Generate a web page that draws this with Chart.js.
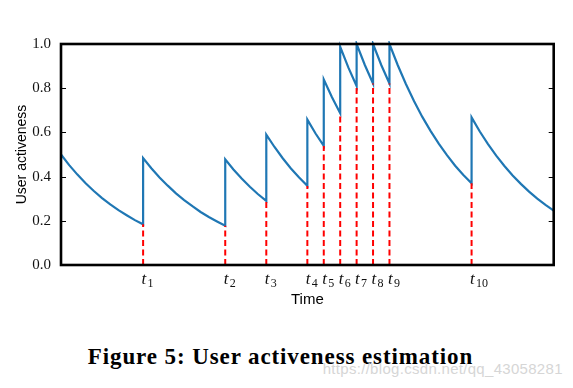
<!DOCTYPE html>
<html>
<head>
<meta charset="utf-8">
<script src="https://cdn.jsdelivr.net/npm/chart.js@4/dist/chart.umd.min.js"></script>
<style>
  html, body { margin: 0; padding: 0; background: #fff; }
  #wrap { position: relative; width: 573px; height: 388px; overflow: hidden; }
  #activeness { position: absolute; left: 0; top: 0; }
  .caption {
    position: absolute; left: 0; width: 561px; top: 343.7px;
    text-align: center; line-height: 23px; white-space: nowrap;
    font: bold 23px "Liberation Serif", serif; letter-spacing: 0.9px; color: #000;
  }
  .mark {
    position: absolute; left: 322.7px; top: 360.3px; line-height: 15px; white-space: nowrap;
    font: 15px "Liberation Sans", sans-serif; letter-spacing: 0.3px; color: #d6d6d6;
  }
</style>
</head>
<body>
<div id="wrap">
  <canvas id="activeness" width="573" height="310"></canvas>
  <div class="caption">Figure 5: User activeness estimation</div>
  <div class="mark">https://blog.csdn.net/qq_43058281</div>
</div>
<script>
// activeness curve (jumps repeat the same time)
const activeTimes = [
  0, 0.5, 1, 1.5, 2, 2.5, 3, 3.5, 4, 4.5, 5,
  5, 5.5, 6, 6.5, 7, 7.5, 8, 8.5, 9, 9.5, 10,
  10, 10.5, 11, 11.5, 12, 12.5,
  12.5, 13, 13.5, 14, 14.5, 15,
  15, 15.5, 16,
  16, 16.5, 17,
  17, 17.5, 18,
  18, 18.5, 19,
  19, 19.5, 20,
  20, 20.5, 21, 21.5, 22, 22.5, 23, 23.5, 24, 24.5, 25,
  25, 25.5, 26, 26.5, 27, 27.5, 28, 28.5, 29, 29.5, 30
]
const activeValues = [
  0.500, 0.452, 0.409, 0.370, 0.335, 0.303, 0.274, 0.248, 0.225, 0.203, 0.184,
  0.484, 0.438, 0.396, 0.359, 0.324, 0.294, 0.266, 0.240, 0.217, 0.197, 0.178,
  0.478, 0.432, 0.391, 0.354, 0.320, 0.290,
  0.590, 0.534, 0.483, 0.437, 0.396, 0.358,
  0.658, 0.595, 0.539,
  0.839, 0.759, 0.687,
  0.987, 0.893, 0.810,
  1.000, 0.905, 0.821,
  1.000, 0.905, 0.821,
  1.000, 0.905, 0.819, 0.741, 0.670, 0.607, 0.549, 0.497, 0.449, 0.407, 0.370,
  0.668, 0.604, 0.547, 0.495, 0.448, 0.405, 0.367, 0.332, 0.300, 0.272, 0.246
]

// user actions t1..t10 and the level just before each one
const eventTimes = [5, 10, 12.5, 15, 16, 17, 18, 19, 20, 25]
const eventLevels = [0.184, 0.178, 0.290, 0.358, 0.539, 0.687, 0.810, 0.821, 0.821, 0.370]
const eventSubs = ['1', '2', '3', '4', '5', '6', '7', '8', '9', '10']

const yTicks = [0, 0.2, 0.4, 0.6, 0.8, 1.0]

const curve = activeTimes.map((t, i) => ({x: t, y: activeValues[i]}))

const dashLines = eventTimes.map((t, i) => ({
  data: [{x: t, y: 0}, {x: t, y: eventLevels[i]}],
  borderColor: '#ff0000',
  borderWidth: 2,
  borderDash: [6, 3.5],
  pointRadius: 0,
  clip: 2
}))

// frame, inward ticks and t_i labels (matplotlib look)
const framePlugin = {
  id: 'frame',
  afterDatasetsDraw(chart) {
    const {ctx, chartArea: a, scales} = chart
    ctx.save()
    ctx.strokeStyle = '#000'
    ctx.lineWidth = 1
    yTicks.slice(1, -1).forEach(v => {
      const y = Math.round(scales.y.getPixelForValue(v)) + 0.5
      ctx.beginPath()
      ctx.moveTo(a.left, y); ctx.lineTo(a.left + 5, y)
      ctx.moveTo(a.right, y); ctx.lineTo(a.right - 5, y)
      ctx.stroke()
    })
    ctx.lineWidth = 2.6
    ctx.strokeRect(a.left, a.top, a.right - a.left, a.bottom - a.top)

    ctx.fillStyle = '#111'
    ctx.textBaseline = 'alphabetic'
    ctx.textAlign = 'left'
    eventTimes.forEach((t, i) => {
      const x = scales.x.getPixelForValue(t)
      ctx.font = 'italic 17px "Liberation Serif", serif'
      ctx.fillText('t', x - 1.5, 283.5)
      ctx.font = '12px "Liberation Serif", serif'
      ctx.fillText(eventSubs[i], x + 4.5, 286.5)
    })
    ctx.restore()
  }
}

new Chart(document.getElementById('activeness'), {
  type: 'line',
  data: {
    datasets: [
      ...dashLines,
      {
        data: curve,
        borderColor: '#1f77b4',
        borderWidth: 2.2,
        pointRadius: 0,
        tension: 0,
        clip: 3
      }
    ]
  },
  options: {
    responsive: false,
    animation: false,
    events: [],
    layout: {padding: {left: 0, top: 44, right: 19.3, bottom: 0}},
    plugins: {legend: {display: false}, tooltip: {enabled: false}},
    scales: {
      x: {
        type: 'linear',
        min: 0,
        max: 30,
        border: {display: false},
        grid: {display: false, drawTicks: false},
        ticks: {display: false},
        title: {
          display: true,
          text: 'Time',
          color: '#000',
          font: {family: '"Liberation Sans", sans-serif', size: 15},
          padding: {top: 0, bottom: 1}
        },
        afterFit(scale) { scale.height = 45 }
      },
      y: {
        min: 0,
        max: 1,
        border: {display: false},
        grid: {display: false, drawTicks: false},
        afterBuildTicks(scale) { scale.ticks = yTicks.map(v => ({value: v})) },
        ticks: {
          padding: 10,
          color: '#111',
          font: {family: '"Liberation Serif", serif', size: 15},
          callback: v => v.toFixed(1)
        },
        title: {
          display: true,
          text: 'User activeness',
          color: '#000',
          font: {family: '"Liberation Sans", sans-serif', size: 14},
          padding: {top: 13.6, bottom: 0}
        },
        afterFit(scale) { scale.width = 61 }
      }
    }
  },
  plugins: [framePlugin]
})
</script>
</body>
</html>
